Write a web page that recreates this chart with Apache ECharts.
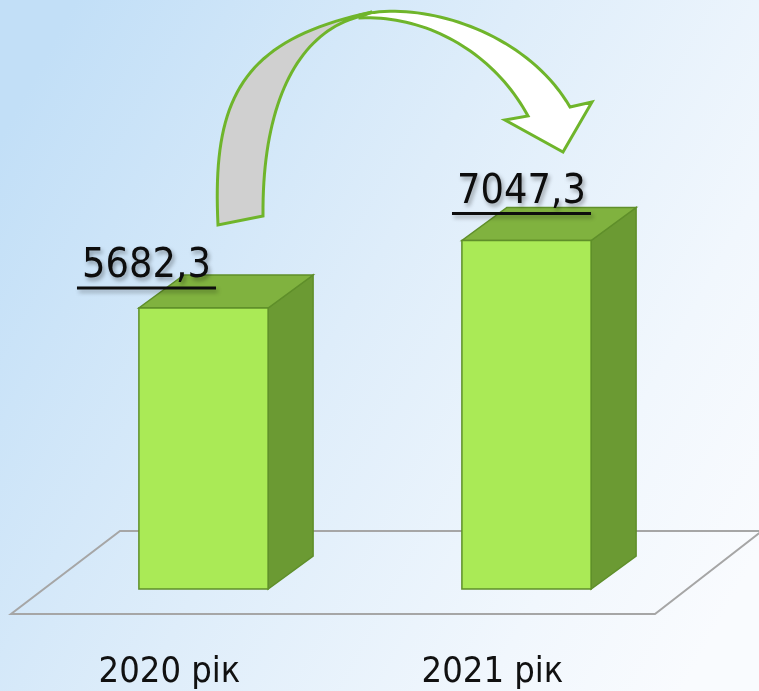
<!DOCTYPE html>
<html>
<head>
<meta charset="utf-8">
<script src="https://cdn.jsdelivr.net/npm/echarts@6/dist/echarts.min.js"></script>
<style>
html,body{margin:0;padding:0;}
#chart{width:759px;height:691px;}
</style>
</head>
<body>
<div id="chart"></div>
<script>
// ---- data ----
const categories = ['2020 рік', '2021 рік'];
const values = [5682.3, 7047.3];

// ---- style constants ----
const FONT = '"DejaVu Sans Condensed", "Liberation Sans Narrow", "DejaVu Sans", sans-serif';
const labelDx = [-57, -5];
const labelDy = [3, -4];
const DEPTH_X = 45, DEPTH_Y = -33;

function fmt(v) { return v.toFixed(1).replace('.', ','); }

const measureCtx = document.createElement('canvas').getContext('2d');
function textWidth(t, font) { measureCtx.font = font; return measureCtx.measureText(t).width; }

// sample a cubic bezier (decorative arrow outline)
function bez(p0, p1, p2, p3, n) {
  const pts = [];
  for (let i = 0; i <= n; i++) {
    const t = i / n, u = 1 - t;
    pts.push([
      u*u*u*p0[0] + 3*u*u*t*p1[0] + 3*u*t*t*p2[0] + t*t*t*p3[0],
      u*u*u*p0[1] + 3*u*u*t*p1[1] + 3*u*t*t*p2[1] + t*t*t*p3[1]
    ]);
  }
  return pts;
}
const whitePts = [].concat(
  bez([360,15],[420,0],[525,30],[570,107], 40),
  [[592,102],[563,152],[505,120]],
  bez([528,116],[495,55],[430,15],[360,18], 40)
);
const grayPts = [].concat(
  bez([218,225],[212,100],[240,40],[372,12], 40),
  bez([362,16],[300,30],[262,100],[263,216], 40)
);

function renderItem(params, api) {
  const idx = api.value(0), val = api.value(1);
  const top = api.coord([idx, val]);
  const base = api.coord([idx, 0]);
  const w = api.size([1, 0])[0] * 0.4;
  const x0 = top[0] - w / 2, x1 = top[0] + w / 2;
  const y0 = top[1], y1 = base[1];
  const dx = DEPTH_X, dy = DEPTH_Y;
  const border = '#5f8f2a';
  const txt = fmt(values[idx]);
  const fontSize = 41;
  const tw = textWidth(txt, fontSize + 'px ' + FONT);
  const cx = top[0] + labelDx[idx];
  const baseline = y0 + dy + labelDy[idx];
  return {
    type: 'group',
    children: [
      { type: 'polygon', shape: { points: [[x1, y0], [x1 + dx, y0 + dy], [x1 + dx, y1 + dy], [x1, y1]] },
        style: { fill: '#6b9a33', stroke: border, lineWidth: 1.5 } },
      { type: 'polygon', shape: { points: [[x0, y0], [x1, y0], [x1 + dx, y0 + dy], [x0 + dx, y0 + dy]] },
        style: { fill: '#80b23f', stroke: border, lineWidth: 1.5 } },
      { type: 'rect', shape: { x: x0, y: y0, width: w, height: y1 - y0 },
        style: { fill: '#aaea56', stroke: border, lineWidth: 1.5 } },
      { type: 'text', z2: 20,
        style: { text: txt, x: cx, y: baseline + 9, align: 'center', verticalAlign: 'bottom',
          font: fontSize + 'px ' + FONT, fill: '#0d0d0d',
          textShadowColor: 'rgba(0,0,0,0.35)', textShadowBlur: 4, textShadowOffsetX: 2, textShadowOffsetY: 3 } },
      { type: 'line', z2: 20,
        shape: { x1: cx - tw / 2 - 5, y1: baseline + 10, x2: cx + tw / 2 + 5, y2: baseline + 10 },
        style: { stroke: '#0d0d0d', lineWidth: 3, shadowColor: 'rgba(0,0,0,0.3)', shadowBlur: 4, shadowOffsetX: 2, shadowOffsetY: 3 } }
    ]
  };
}

const chart = echarts.init(document.getElementById('chart'), null, { renderer: 'canvas' });
chart.setOption({
  animation: false,
  backgroundColor: {
    type: 'linear', x: 0, y: 0.2, x2: 1, y2: 0.8,
    colorStops: [
      { offset: 0, color: '#c2dff7' },
      { offset: 0.45, color: '#deedfa' },
      { offset: 0.8, color: '#f1f7fd' },
      { offset: 1, color: '#f9fbfe' }
    ]
  },
  grid: { left: 42, right: 71, top: 94.5, bottom: 102 },
  xAxis: {
    type: 'category', data: categories,
    axisLine: { show: false }, axisTick: { show: false },
    axisLabel: { margin: 66, fontSize: 36, fontFamily: FONT, color: '#111', padding: [0, 68, 0, 0] }
  },
  yAxis: { type: 'value', min: 0, max: 10000, show: false, splitLine: { show: false } },
  graphic: [
    { type: 'polygon', z: 0, silent: true,
      shape: { points: [[120, 531], [762, 531], [655, 614], [11, 614]] },
      style: { fill: 'rgba(0,0,0,0)', stroke: '#a6a6a6', lineWidth: 2 } },
    { type: 'polygon', z: 10, silent: true,
      shape: { points: whitePts },
      style: { fill: '#ffffff', stroke: '#6fb52b', lineWidth: 3, lineJoin: 'miter' } },
    { type: 'polygon', z: 11, silent: true,
      shape: { points: grayPts },
      style: { fill: '#d0d0d0', stroke: '#6fb52b', lineWidth: 3 } }
  ],
  series: [{
    type: 'custom', z: 2,
    renderItem: renderItem,
    data: values.map((v, i) => [i, v])
  }]
});
</script>
</body>
</html>
